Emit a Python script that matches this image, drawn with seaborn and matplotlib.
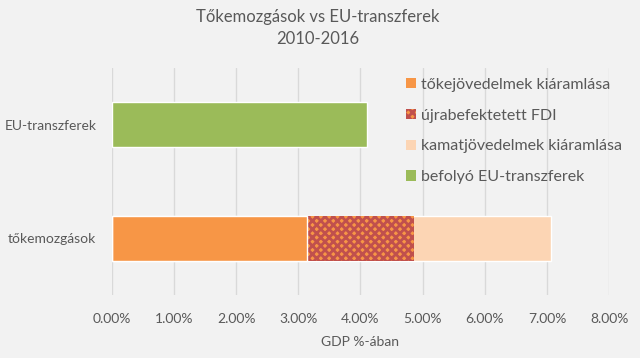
import numpy as np
import pandas as pd
import matplotlib
matplotlib.use('Agg')
import matplotlib.pyplot as plt
import seaborn as sns
from matplotlib.ticker import PercentFormatter
from matplotlib.patches import Patch

# data (share of GDP)
categories = ['EU-transzferek', 'tőkemozgások']
tokejovedelem = [0.0, 0.0314]   # tőkejövedelmek kiáramlása
ujrabefektetett = [0.0, 0.0172]  # újrabefektetett FDI
kamatjovedelem = [0.0, 0.0220]   # kamatjövedelmek kiáramlása
eu_transzfer = [0.0411, 0.0]     # befolyó EU-transzferek

series_names = ['tőkejövedelmek kiáramlása', 'újrabefektetett FDI',
                'kamatjövedelmek kiáramlása', 'befolyó EU-transzferek']
colors = ['#F79646', '#F79646', '#FCD5B4', '#9BBB59']

bg = '#F2F2F2'
txt = '#595959'

sns.set_theme(style='white')
plt.rcParams['font.family'] = ['Lato', 'DejaVu Sans']
plt.rcParams['hatch.color'] = '#C0504D'
plt.rcParams['hatch.linewidth'] = 2.0

df = pd.DataFrame({'kategoria': categories,
                   's1': tokejovedelem, 's2': ujrabefektetett,
                   's3': kamatjovedelem, 's4': eu_transzfer})
# cumulative sums for stacking (drawn back to front)
df['c1'] = df['s1']
df['c2'] = df['c1'] + df['s2']
df['c3'] = df['c2'] + df['s3']

fig = plt.figure(figsize=(6.4, 3.58), dpi=100, facecolor=bg)
ax = fig.add_axes([0.1745, 0.176, 0.7775, 0.634], facecolor=bg)

sns.barplot(data=df, x='c3', y='kategoria', color=colors[2], orient='h',
            width=0.4, saturation=1, ax=ax, order=categories)
n_before = len(ax.patches)
sns.barplot(data=df, x='c2', y='kategoria', color=colors[1], orient='h',
            width=0.4, saturation=1, ax=ax, order=categories)
for p in ax.patches[n_before:]:
    p.set_hatch('xxxx')
    p.set_edgecolor('#C0504D')
    p.set_linewidth(0)
sns.barplot(data=df, x='c1', y='kategoria', color=colors[0], orient='h',
            width=0.4, saturation=1, ax=ax, order=categories)
sns.barplot(data=df, x='s4', y='kategoria', color=colors[3], orient='h',
            width=0.4, saturation=1, ax=ax, order=categories)

ax.set_xlim(0, 0.08)
ax.set_ylim(1.5, -0.5)
ax.set_xticks(np.arange(0, 0.081, 0.01))
ax.xaxis.set_major_formatter(PercentFormatter(xmax=1, decimals=2))
ax.grid(axis='x', color='#D9D9D9', linewidth=1)
ax.set_axisbelow(True)
for s in ax.spines.values():
    s.set_visible(False)
ax.tick_params(axis='both', length=0, colors=txt, labelsize=10)
ax.tick_params(axis='y', pad=11)
ax.tick_params(axis='x', pad=13)
ax.set_ylabel('')
ax.set_xlabel('GDP %-ában', color=txt, fontsize=10, labelpad=8)

fig.suptitle('Tőkemozgások vs EU-transzferek\n2010-2016', x=0.497, y=0.975,
             fontsize=12, color=txt, linespacing=1.45)

handles = [Patch(facecolor=colors[0], edgecolor='none'),
           Patch(facecolor=colors[1], edgecolor='#C0504D', hatch='xxxx', linewidth=0),
           Patch(facecolor=colors[2], edgecolor='none'),
           Patch(facecolor=colors[3], edgecolor='none')]
leg = ax.legend(handles, series_names, loc='upper left', bbox_to_anchor=(0.563, 1.02),
                frameon=False, fontsize=11.5, labelcolor=txt, handlelength=0.6,
                handleheight=0.6, handletextpad=0.3, labelspacing=1.05)

fig.savefig('out.png', dpi=100, facecolor=bg)
